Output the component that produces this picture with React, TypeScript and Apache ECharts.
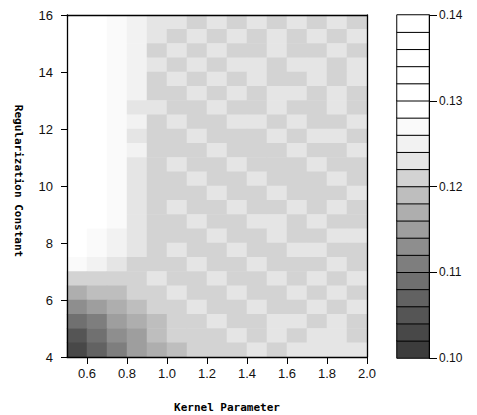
import React, { useEffect, useRef } from "react";
import * as echarts from "echarts";

// Cell centres of the contour grid
const kernelCenters = [0.55, 0.65, 0.75, 0.85, 0.95, 1.05, 1.15, 1.25, 1.35, 1.45, 1.55, 1.65, 1.75, 1.85, 1.95];
const regCenters = [4.25, 4.75, 5.25, 5.75, 6.25, 6.75, 7.25, 7.75, 8.25, 8.75, 9.25, 9.75, 10.25, 10.75, 11.25, 11.75, 12.25, 12.75, 13.25, 13.75, 14.25, 14.75, 15.25, 15.75];

// Error values, rows listed from top (15.75) to bottom (4.25)
const errorRows: number[][] = [
  [0.130, 0.129, 0.127, 0.1255, 0.1235, 0.1225, 0.1205, 0.1225, 0.1215, 0.1235, 0.1205, 0.1225, 0.1215, 0.1225, 0.1205],
  [0.130, 0.129, 0.127, 0.1255, 0.1225, 0.1205, 0.1225, 0.1215, 0.1235, 0.1205, 0.1225, 0.1205, 0.1235, 0.1215, 0.1225],
  [0.130, 0.129, 0.127, 0.1245, 0.1215, 0.1235, 0.1205, 0.1225, 0.1205, 0.1215, 0.1235, 0.1215, 0.1205, 0.1225, 0.1215],
  [0.130, 0.129, 0.127, 0.1245, 0.1225, 0.1205, 0.1235, 0.1215, 0.1225, 0.1235, 0.1205, 0.1225, 0.1235, 0.1205, 0.1225],
  [0.130, 0.129, 0.127, 0.1245, 0.1215, 0.1225, 0.1215, 0.1235, 0.1205, 0.1225, 0.1215, 0.1205, 0.1225, 0.1215, 0.1235],
  [0.130, 0.129, 0.127, 0.1245, 0.1215, 0.1205, 0.1225, 0.1205, 0.1235, 0.1215, 0.1225, 0.1235, 0.1215, 0.1225, 0.1205],
  [0.130, 0.129, 0.1265, 0.1235, 0.1225, 0.1215, 0.1205, 0.1225, 0.1215, 0.1205, 0.1235, 0.1215, 0.1205, 0.1235, 0.1215],
  [0.130, 0.129, 0.1265, 0.1245, 0.1205, 0.1235, 0.1215, 0.1205, 0.1225, 0.1235, 0.1205, 0.1225, 0.1215, 0.1205, 0.1225],
  [0.130, 0.128, 0.1265, 0.1235, 0.1215, 0.1205, 0.1225, 0.1215, 0.1205, 0.1215, 0.1225, 0.1205, 0.1235, 0.1225, 0.1215],
  [0.130, 0.128, 0.127, 0.1245, 0.1205, 0.1215, 0.1205, 0.1235, 0.1215, 0.1205, 0.1215, 0.1235, 0.1205, 0.1215, 0.1225],
  [0.130, 0.128, 0.1265, 0.1235, 0.1215, 0.1225, 0.1215, 0.1205, 0.1225, 0.1215, 0.1205, 0.1215, 0.1225, 0.1205, 0.1215],
  [0.130, 0.128, 0.1265, 0.1225, 0.1205, 0.1215, 0.1235, 0.1215, 0.1205, 0.1225, 0.1215, 0.1205, 0.1215, 0.1235, 0.1205],
  [0.129, 0.128, 0.1265, 0.1235, 0.1215, 0.1205, 0.1215, 0.1225, 0.1215, 0.1205, 0.1225, 0.1215, 0.1205, 0.1215, 0.1225],
  [0.129, 0.128, 0.1265, 0.1225, 0.1215, 0.1225, 0.1205, 0.1215, 0.1235, 0.1215, 0.1205, 0.1225, 0.1215, 0.1225, 0.1205],
  [0.129, 0.128, 0.126, 0.1235, 0.1205, 0.1215, 0.1225, 0.1205, 0.1215, 0.1225, 0.1235, 0.1205, 0.1225, 0.1205, 0.1215],
  [0.129, 0.127, 0.1255, 0.1225, 0.1215, 0.1205, 0.1215, 0.1235, 0.1205, 0.1215, 0.1225, 0.1215, 0.1205, 0.1235, 0.1225],
  [0.128, 0.127, 0.125, 0.122, 0.1215, 0.1225, 0.1205, 0.1215, 0.1225, 0.1205, 0.1215, 0.1225, 0.1235, 0.1215, 0.1205],
  [0.127, 0.125, 0.1225, 0.1215, 0.1205, 0.1215, 0.1225, 0.1215, 0.1205, 0.1225, 0.1215, 0.1205, 0.1215, 0.1225, 0.1215],
  [0.121, 0.1205, 0.1215, 0.1205, 0.1225, 0.1205, 0.1215, 0.1225, 0.1215, 0.1205, 0.1225, 0.1215, 0.1225, 0.1205, 0.1225],
  [0.116, 0.118, 0.1195, 0.1205, 0.1215, 0.1225, 0.1205, 0.1215, 0.1225, 0.1215, 0.1205, 0.1225, 0.1215, 0.1235, 0.1215],
  [0.112, 0.114, 0.117, 0.119, 0.1205, 0.1215, 0.1225, 0.1205, 0.1215, 0.1235, 0.1215, 0.1205, 0.1225, 0.1215, 0.1225],
  [0.108, 0.111, 0.114, 0.117, 0.119, 0.1205, 0.1215, 0.1225, 0.1215, 0.1205, 0.1225, 0.1235, 0.1215, 0.1225, 0.1215],
  [0.105, 0.108, 0.112, 0.115, 0.118, 0.120, 0.1215, 0.1205, 0.1225, 0.1215, 0.1235, 0.1215, 0.1225, 0.1235, 0.1215],
  [0.102, 0.106, 0.110, 0.114, 0.117, 0.119, 0.1205, 0.1215, 0.1205, 0.1225, 0.1215, 0.1225, 0.1235, 0.1225, 0.1235],
];

// Contour levels and their grey fills
const levelBreaks = [0.100, 0.102, 0.104, 0.106, 0.108, 0.110, 0.112, 0.114, 0.116, 0.118, 0.120, 0.122, 0.124, 0.126, 0.128, 0.130, 0.132, 0.134, 0.136, 0.138, 0.140];
const levelColors = [
  "#3c3c3c", "#484848", "#555555", "#626262", "#707070",
  "#7e7e7e", "#8e8e8e", "#9e9e9e", "#aeaeae", "#bebebe",
  "#d3d3d3", "#e5e5e5", "#f2f2f2", "#fafafa", "#ffffff",
  "#ffffff", "#ffffff", "#ffffff", "#ffffff", "#ffffff",
];

const xTicks = [0.6, 0.8, 1.0, 1.2, 1.4, 1.6, 1.8, 2.0];
const yTicks = [4, 6, 8, 10, 12, 14, 16];
const barTicks = [0.10, 0.11, 0.12, 0.13, 0.14];

const xTitle = "Kernel Parameter";
const yTitle = "Regularization Constant";

export default function App() {
  const ref = useRef<HTMLDivElement>(null);
  useEffect(() => {
    if (!ref.current) return;
    const chart = echarts.init(ref.current, null, { renderer: "svg" });

    const nRows = regCenters.length;
    const mainData: number[][] = [];
    errorRows.forEach((row, r) => {
      row.forEach((v, c) => {
        mainData.push([c, nRows - 1 - r, v]);
      });
    });
    const levelIdx = levelColors.map((_, i) => String(i));
    const barData = levelColors.map((_, i) => [0, i, (levelBreaks[i] + levelBreaks[i + 1]) / 2]);

    const labelFont = { fontFamily: "Liberation Sans", fontSize: 13, color: "#111" };
    const hidden = { show: false };

    chart.setOption({
      animation: false,
      backgroundColor: "#ffffff",
      grid: [
        { left: 67, top: 15, width: 300, height: 342, show: false },
        { left: 397, top: 15, width: 32, height: 343, show: false },
      ],
      xAxis: [
        { type: "category", gridIndex: 0, data: kernelCenters.map(String), ...hidden },
        {
          type: "value", gridIndex: 0, position: "bottom", min: 0.5, max: 2.0, z: 10,
          axisLine: { show: true, lineStyle: { color: "#000", width: 1.3 } },
          axisTick: { show: true, length: 7, customValues: xTicks, lineStyle: { color: "#000" } },
          axisLabel: { ...labelFont, margin: 10, customValues: xTicks, formatter: (v: number) => v.toFixed(1) },
          splitLine: { show: false },
        },
        {
          type: "value", gridIndex: 0, position: "top", min: 0.5, max: 2.0, z: 10,
          axisLine: { show: true, lineStyle: { color: "#000", width: 1.3 } },
          axisTick: { show: false }, axisLabel: { show: false }, splitLine: { show: false },
        },
        { type: "category", gridIndex: 1, data: ["bar"], ...hidden },
      ],
      yAxis: [
        { type: "category", gridIndex: 0, data: regCenters.map(String), ...hidden },
        {
          type: "value", gridIndex: 0, position: "left", min: 4, max: 16, interval: 2, z: 10,
          axisLine: { show: true, lineStyle: { color: "#000", width: 1.3 } },
          axisTick: { show: true, length: 6, customValues: yTicks, lineStyle: { color: "#000" } },
          axisLabel: { ...labelFont, margin: 14, customValues: yTicks },
          splitLine: { show: false },
        },
        {
          type: "value", gridIndex: 0, position: "right", min: 4, max: 16, z: 10,
          axisLine: { show: true, lineStyle: { color: "#000", width: 1.3 } },
          axisTick: { show: false }, axisLabel: { show: false }, splitLine: { show: false },
        },
        { type: "category", gridIndex: 1, data: levelIdx, ...hidden },
        {
          type: "value", gridIndex: 1, position: "right", min: 0.10, max: 0.14, z: 10,
          axisLine: { show: true, lineStyle: { color: "#000" } },
          axisTick: { show: true, length: 8, customValues: barTicks, lineStyle: { color: "#000" } },
          axisLabel: { ...labelFont, fontSize: 12, margin: 10, customValues: barTicks, formatter: (v: number) => v.toFixed(2) },
          splitLine: { show: false },
        },
      ],
      visualMap: {
        type: "piecewise",
        show: false,
        seriesIndex: [0, 1],
        dimension: 2,
        pieces: levelColors.map((color, i) => ({ gte: levelBreaks[i], lt: levelBreaks[i + 1], color })),
      },
      series: [
        {
          type: "heatmap", xAxisIndex: 0, yAxisIndex: 0, data: mainData,
          emphasis: { disabled: true }, itemStyle: { borderWidth: 0 },
        },
        {
          type: "heatmap", xAxisIndex: 3, yAxisIndex: 3, data: barData,
          emphasis: { disabled: true }, itemStyle: { borderColor: "#000", borderWidth: 1 },
        },
        { type: "scatter", xAxisIndex: 1, yAxisIndex: 1, data: [] },
        { type: "scatter", xAxisIndex: 2, yAxisIndex: 2, data: [] },
        { type: "scatter", xAxisIndex: 3, yAxisIndex: 4, data: [] },
      ],
      graphic: [
        {
          type: "text", x: 227, y: 407,
          style: {
            text: xTitle, fontFamily: "DejaVu Sans Mono", fontWeight: "bold", fontSize: 11,
            fill: "#000", textAlign: "center", textVerticalAlign: "middle",
          },
        },
        {
          type: "text", x: 18, y: 181, rotation: -Math.PI / 2,
          style: {
            text: yTitle, fontFamily: "DejaVu Sans Mono", fontWeight: "bold", fontSize: 11,
            fill: "#000", textAlign: "center", textVerticalAlign: "middle",
          },
        },
      ],
    });
    return () => chart.dispose();
  }, []);
  return <div ref={ref} style={{ position: "fixed", left: 0, top: 0, width: 477, height: 415 }} />;
}
